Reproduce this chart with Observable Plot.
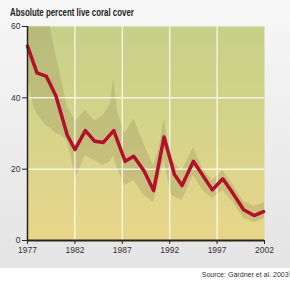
<!DOCTYPE html>
<html><head><meta charset="utf-8">
<script src="https://cdn.jsdelivr.net/npm/d3@7"></script>
<script src="https://cdn.jsdelivr.net/npm/@observablehq/plot@0.6"></script>
<style>
html,body{margin:0;padding:0;background:#fff;}
#wrap{position:relative;width:290px;height:285px;overflow:hidden;background:#fff;}
#panel{position:absolute;left:0;top:0;width:290px;height:268px;background:linear-gradient(#f7f7f7,#e4e4e4);}
#title{position:absolute;left:10px;top:6px;font:bold 10.5px "Liberation Sans",Arial,sans-serif;color:#222;white-space:nowrap;transform:scaleX(0.75);transform-origin:0 0;}
#chart{position:absolute;left:0;top:22px;}
#source{position:absolute;right:-1px;top:270px;font:7.5px "Liberation Sans",Arial,sans-serif;color:#333;white-space:nowrap;transform:scaleX(0.94);transform-origin:100% 0;}
</style></head>
<body>
<div id="wrap">
<div id="panel"></div>
<div id="title">Absolute percent live coral cover</div>
<div id="chart"></div>
<div id="source">Source: Gardner et al. 2003³</div>
</div>
<script>
// Red line: coral cover (%)
const years = [1977, 1978, 1979, 1980, 1981.2, 1982, 1983.1, 1984.1, 1985, 1986.1, 1987.3, 1988.2, 1989.3, 1990.3, 1991.4, 1992.5, 1993.3, 1994.5, 1996.5, 1997.6, 1998.6, 1999.8, 2000.9, 2001.9];
const cover = [54.5, 47, 46, 40.5, 29.5, 25.5, 30.8, 27.8, 27.5, 30.8, 22.2, 23.6, 19.5, 14, 29, 18.5, 15.4, 22.2, 14.2, 17.3, 13.5, 8.6, 7, 8.1];
// Shaded band (confidence interval)
const bandYears = [1977, 1977.6, 1978, 1979, 1979.4, 1980, 1980.5, 1981.2, 1982.1, 1983.1, 1984.1, 1985, 1985.7, 1986.1, 1986.5, 1987.3, 1988.2, 1989.3, 1990.3, 1990.9, 1991.4, 1992.2, 1993.3, 1994.5, 1995.5, 1996.5, 1997.6, 1998.6, 1999.8, 2000.9, 2002];
const bandHi = [75, 72, 70, 64, 60, 52, 46, 37.5, 33.5, 36.5, 33.5, 35, 38, 45.5, 36, 30, 34, 27, 21, 26, 34, 22.5, 19.5, 26, 20, 16.8, 19.6, 16, 11, 9.5, 10.5];
const bandLo = [46, 38, 35.5, 32, 31.5, 30, 29.5, 28, 17.5, 23.8, 22.4, 21, 22, 23.8, 20, 15.4, 16.8, 12.6, 10.6, 17, 22.4, 12.6, 11.2, 18.2, 14, 11.8, 14, 11, 6.2, 5, 6.2];
const xTicks = [1977, 1982, 1987, 1992, 1997, 2002];
const yTicks = [0, 20, 40, 60];
const gridX = [1982, 1987, 1992, 1997];
const gridY = [20, 40];

const line = years.map((y, i) => ({year: y, value: cover[i]}));
const band = bandYears.map((y, i) => ({year: y, lo: bandLo[i], hi: bandHi[i]}));

const font = '"Liberation Sans", Arial, sans-serif';
const chart = Plot.plot({
  width: 290, height: 246,
  marginLeft: 27, marginRight: 26, marginTop: 4, marginBottom: 28,
  style: {background: "transparent", fontFamily: font, fontSize: "8.5px", color: "#333"},
  x: {domain: [1977, 2002], label: null},
  y: {domain: [0, 60], label: null},
  marks: [
    Plot.frame({fill: "url(#bgGrad)", stroke: null}),
    Plot.areaY(band, {x: "year", y1: "lo", y2: "hi", fill: "#8f8a55", fillOpacity: 0.28, clip: true}),
    Plot.ruleX(gridX, {stroke: "#fff", strokeOpacity: 0.75, strokeWidth: 1.5}),
    Plot.ruleY(gridY, {stroke: "#fff", strokeOpacity: 0.75, strokeWidth: 1.5}),
    Plot.lineY(line, {x: "year", y: "value", stroke: "#b3102c", strokeWidth: 3.5, strokeLinejoin: "round", strokeLinecap: "round"}),
    Plot.ruleX([1977], {stroke: "#2a2418", strokeWidth: 1.5}),
    Plot.ruleY([0], {stroke: "#2a2418", strokeWidth: 2.2}),
    Plot.axisX({ticks: xTicks, tickFormat: d => String(d), tickSize: 4, tickPadding: 2, stroke: "#2a2418", fill: "#333"}),
    Plot.axisY({ticks: yTicks, tickSize: 5, tickPadding: 2, stroke: "#2a2418", fill: "#333"})
  ]
});
const ns = "http://www.w3.org/2000/svg";
const defs = document.createElementNS(ns, "defs");
defs.innerHTML = '<linearGradient id="bgGrad" x1="0" y1="0" x2="0" y2="1">' +
  '<stop offset="0" stop-color="#c7d088"/>' +
  '<stop offset="0.5" stop-color="#d5d48a"/>' +
  '<stop offset="1" stop-color="#e9d68b"/></linearGradient>';
chart.insertBefore(defs, chart.firstChild);
document.getElementById("chart").appendChild(chart);
</script>
</body></html>
